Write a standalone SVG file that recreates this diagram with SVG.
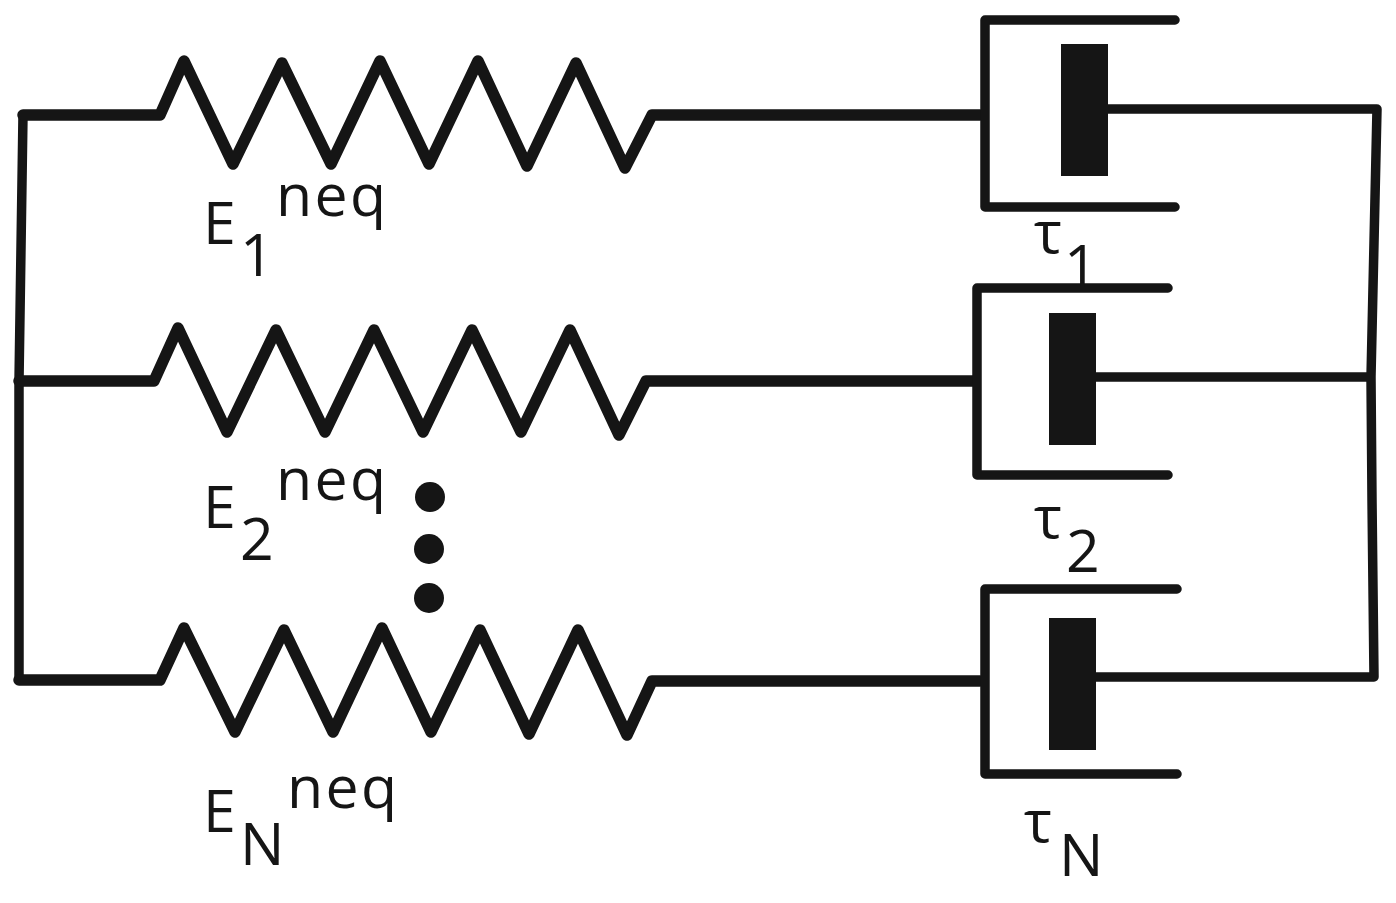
<svg xmlns="http://www.w3.org/2000/svg" width="1396" height="903" viewBox="0 0 1396 903">
<style>
.w{fill:none;stroke:#151515;stroke-width:9.5;stroke-linecap:round;stroke-linejoin:round}
.z{stroke-width:11.5}
.p{fill:#151515}
.t{font-family:"Open Sans","Liberation Sans",sans-serif;fill:#151515;font-size:59px}
.n{letter-spacing:2.4px}
</style>
<rect width="1396" height="903" fill="#fff"/>
<g id="connectors">
<path class="w" d="M23 115L19 381V680"/>
<path class="w" d="M1377 109H1106M1370 377H1094M1374 677H1094M1377 109L1371 377L1372 500L1374 677"/>
</g>
<g id="spring1"><path class="w z" d="M23 115H160L184 61L233 164L282 63L331 164L380 61L429 164L478 61L527 166L576 63L625 168L652 115H980"/></g>
<g id="spring2"><path class="w z" d="M19 381H154L178 328L227 432L276 330L325 432L374 330L423 432L472 330L521 432L570 330L619 435L646 381H974"/></g>
<g id="springN"><path class="w z" d="M19 680H160L184 628L235 732L284 630L333 732L382 628L431 732L480 630L529 734L578 630L627 735L652 681H980"/></g>
<g id="damper1"><path class="w" d="M1175 20H985V207H1175"/><rect class="p" x="1061" y="44" width="47" height="132"/></g>
<g id="damper2"><path class="w" d="M1168 288H977V475H1168"/><rect class="p" x="1049" y="313" width="47" height="132"/></g>
<g id="damperN"><path class="w" d="M1177 589H985V774H1177"/><rect class="p" x="1049" y="618" width="47" height="132"/></g>
<g id="dots"><circle class="p" cx="430" cy="497" r="15"/><circle class="p" cx="429" cy="549" r="15"/><circle class="p" cx="429" cy="598" r="15"/></g>
<g id="labels">
<text class="t" x="203" y="244">E</text><text class="t" x="240" y="276">1</text><text class="t n" x="276" y="216">neq</text>
<text class="t" x="203" y="528">E</text><text class="t" x="240" y="560">2</text><text class="t n" x="276" y="500">neq</text>
<text class="t" x="203" y="832">E</text><text class="t" x="240" y="865">N</text><text class="t n" x="287" y="808">neq</text>
<text class="t" x="1034" y="253">τ</text><text class="t" x="1064" y="287">1</text>
<text class="t" x="1034" y="538">τ</text><text class="t" x="1066" y="572">2</text>
<text class="t" x="1024" y="842">τ</text><text class="t" x="1059" y="876">N</text>
</g>
</svg>
